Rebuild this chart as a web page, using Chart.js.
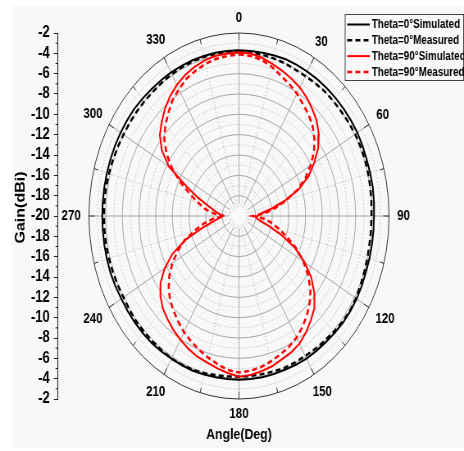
<!DOCTYPE html>
<html>
<head>
<meta charset="utf-8">
<title>Radiation pattern</title>
<script src="https://cdn.jsdelivr.net/npm/chart.js@4.4.1/dist/chart.umd.min.js"></script>
<style>
  html, body { margin: 0; padding: 0; background: #ffffff; }
</style>
</head>
<body>
<!-- drawn on a square-unit canvas, then squeezed to the page width -->
<canvas id="myChart" width="566" height="451" style="display:block;width:464px;height:451px"></canvas>
<script>
// angle in degrees, clockwise from the top
const angles = [0, 5, 10, 15, 20, 25, 30, 35, 40, 45, 50, 55, 60, 65, 70, 75, 80, 85, 90,
  95, 100, 105, 110, 115, 120, 125, 130, 135, 140, 145, 150, 155, 160, 165, 170, 175, 180,
  185, 190, 195, 200, 205, 210, 215, 220, 225, 230, 235, 240, 245, 250, 255, 260, 265, 270,
  275, 280, 285, 290, 295, 300, 305, 310, 315, 320, 325, 330, 335, 340, 345, 350, 355, 360];

// gain in dBi at each angle
const theta0Simulated = [-3.7, -3.7, -3.7, -3.65, -3.6, -3.6, -3.6, -3.6, -3.6, -3.6, -3.6, -3.6, -3.6,
  -3.65, -3.7, -3.7, -3.7, -3.75, -3.8, -3.8, -3.8, -3.8, -3.8, -3.75, -3.7, -3.7, -3.7, -3.75,
  -3.8, -3.8, -3.8, -3.85, -3.9, -3.9, -3.9, -3.9, -3.9, -3.9, -3.9, -3.85, -3.8, -3.8, -3.8,
  -3.75, -3.7, -3.7, -3.7, -3.7, -3.7, -3.65, -3.6, -3.6, -3.6, -3.6, -3.6, -3.6, -3.6, -3.6,
  -3.6, -3.6, -3.6, -3.6, -3.6, -3.65, -3.7, -3.7, -3.7, -3.7, -3.7, -3.7, -3.7, -3.7, -3.7];
const theta0Measured = [-3.9, -3.85, -3.9, -3.95, -4.0, -4.1, -4.1, -4.05, -4.0, -4.0, -4.0, -3.95, -3.9,
  -3.9, -3.9, -3.95, -4.0, -4.05, -4.1, -4.1, -4.1, -4.05, -4.0, -3.9, -3.8, -3.75, -3.8, -3.9,
  -4.0, -4.05, -4.1, -4.1, -4.1, -4.15, -4.2, -4.2, -4.2, -4.15, -4.1, -4.0, -3.9, -3.85, -3.8,
  -3.85, -3.9, -3.9, -3.9, -3.95, -4.0, -3.95, -3.9, -3.85, -3.8, -3.8, -3.8, -3.8, -3.8, -3.85,
  -3.9, -3.95, -4.0, -4.0, -4.0, -4.0, -4.0, -3.95, -3.9, -3.85, -3.8, -3.8, -3.8, -3.85, -3.9];
const theta90Simulated = [-3.9, -3.95, -4.2, -4.5, -4.8, -5.1, -5.4, -5.8, -6.3, -6.8, -7.5, -8.4, -9.6,
  -10.8, -12.4, -14.4, -16.2, -17.4, -17.8, -17.9, -17.5, -16.4, -14.6, -12.6, -10.9, -9.4, -8.2,
  -7.2, -6.6, -6.0, -5.5, -5.2, -5.0, -4.7, -4.5, -4.3, -4.2, -4.5, -4.8, -5.1, -5.3, -5.6, -5.95,
  -6.3, -6.7, -7.1, -7.7, -8.5, -9.7, -11.2, -13.2, -15.4, -16.9, -17.6, -18.0, -17.6, -17.0,
  -16.2, -14.8, -13.0, -10.3, -8.7, -7.6, -6.9, -6.2, -5.6, -5.1, -4.7, -4.4, -4.15, -4.0, -3.95, -3.9];
const theta90Measured = [-4.1, -4.2, -4.4, -4.8, -5.3, -5.7, -6.1, -6.6, -7.0, -7.5, -8.2, -9.0, -10.1,
  -11.2, -12.6, -14.2, -15.6, -16.9, -18.3, -17.0, -16.0, -15.0, -13.8, -12.4, -11.1, -9.9, -8.8,
  -8.0, -7.3, -6.7, -6.2, -5.8, -5.5, -5.2, -4.9, -4.7, -4.6, -4.8, -5.2, -5.6, -6.0, -6.4, -6.8,
  -7.3, -7.8, -8.3, -9.0, -9.8, -10.8, -11.9, -13.1, -14.5, -15.7, -16.9, -18.3, -16.9, -15.8,
  -14.9, -13.8, -12.3, -10.8, -9.4, -8.3, -7.5, -6.8, -6.1, -5.6, -5.1, -4.8, -4.5, -4.3, -4.2, -4.1];

const angleTicks = [0, 30, 60, 90, 120, 150, 180, 210, 240, 270, 300, 330];
const gainMin = -20; // centre
const gainMax = -2;  // outer ring
const gainStep = 2;

const FONT = "'Liberation Sans', Arial, sans-serif";
const BG = "#f8f8f8";

const toPoints = (gains) =>
  gains.map((g, i) => {
    const r = g - gainMin;
    const a = (angles[i] * Math.PI) / 180;
    return { x: r * Math.sin(a), y: r * Math.cos(a) };
  });

// polar grid, angle labels, legend box and the gain title
const polarGrid = {
  id: "polarGrid",
  beforeDraw(chart) {
    const { ctx } = chart;
    ctx.save();
    ctx.fillStyle = BG;
    ctx.fillRect(15, 6, chart.width - 15, 442);
    ctx.restore();
  },
  beforeDatasetsDraw(chart) {
    const { ctx, scales: { x, y } } = chart;
    const cx = x.getPixelForValue(0);
    const cy = y.getPixelForValue(0);
    const kx = x.getPixelForValue(1) - cx;
    const ky = cy - y.getPixelForValue(1);
    const R = gainMax - gainMin;

    ctx.save();
    ctx.lineWidth = 1;

    for (let r = 1; r < R; r++) {
      ctx.beginPath();
      ctx.ellipse(cx, cy, r * kx, r * ky, 0, 0, Math.PI * 2);
      if (r % 2) {
        ctx.setLineDash([1.5, 2]);
        ctx.strokeStyle = "#c4c4c4";
      } else {
        ctx.setLineDash([]);
        ctx.strokeStyle = "#a6a6a6";
      }
      ctx.stroke();
    }

    for (let a = 0; a < 360; a += 15) {
      const t = (a * Math.PI) / 180;
      const s = Math.sin(t);
      const c = Math.cos(t);
      ctx.beginPath();
      ctx.moveTo(cx + s * kx * 1.2, cy - c * ky * 1.2);
      ctx.lineTo(cx + s * kx * R, cy - c * ky * R);
      if (a % 30) {
        ctx.setLineDash([1.5, 2]);
        ctx.strokeStyle = "#c4c4c4";
      } else {
        ctx.setLineDash([]);
        ctx.strokeStyle = "#a6a6a6";
      }
      ctx.stroke();
    }

    // outer ring with inward ticks
    ctx.setLineDash([]);
    ctx.strokeStyle = "#333";
    ctx.beginPath();
    ctx.ellipse(cx, cy, R * kx, R * ky, 0, 0, Math.PI * 2);
    ctx.stroke();
    for (let a = 0; a < 360; a += 15) {
      const t = (a * Math.PI) / 180;
      const s = Math.sin(t);
      const c = Math.cos(t);
      const len = a % 30 ? 5 : 7;
      ctx.beginPath();
      ctx.moveTo(cx + s * kx * R, cy - c * ky * R);
      ctx.lineTo(cx + s * (kx * R - len), cy - c * (ky * R - len));
      ctx.stroke();
    }
    ctx.restore();
  },
  afterDraw(chart) {
    const { ctx, scales: { x, y } } = chart;
    const cx = x.getPixelForValue(0);
    const cy = y.getPixelForValue(0);
    const kx = x.getPixelForValue(1) - cx;
    const ky = cy - y.getPixelForValue(1);
    const R = gainMax - gainMin;

    ctx.save();

    // minor ticks on the gain axis
    ctx.strokeStyle = "#222";
    ctx.lineWidth = 1;
    for (let v = -R + 1; v < R; v += gainStep) {
      const py = y.getPixelForValue(v);
      ctx.beginPath();
      ctx.moveTo(chart.chartArea.left - 3, py);
      ctx.lineTo(chart.chartArea.left, py);
      ctx.stroke();
    }

    // angle labels
    ctx.fillStyle = "#000";
    ctx.font = "bold 14px " + FONT;
    ctx.textAlign = "center";
    ctx.textBaseline = "middle";
    angleTicks.forEach((a) => {
      const t = (a * Math.PI) / 180;
      const s = Math.sin(t);
      const c = Math.cos(t);
      const w = ctx.measureText(String(a)).width;
      const d = 10 + (Math.abs(s) * w) / 2 + Math.abs(c) * 5;
      ctx.fillText(String(a), cx + s * (kx * R + d), cy - c * (ky * R + d) + 0.5);
    });

    // gain axis title
    ctx.save();
    ctx.translate(26, 207.5);
    ctx.rotate(-Math.PI / 2);
    ctx.font = "bold 16px " + FONT;
    ctx.fillText("Gain(dBi)", 0, 0);
    ctx.restore();

    // legend
    const box = { left: 421, top: 14.5, right: 565.5, bottom: 80.5 };
    ctx.fillStyle = BG;
    ctx.fillRect(box.left, box.top, box.right - box.left, box.bottom - box.top);
    ctx.strokeStyle = "#444";
    ctx.lineWidth = 1;
    ctx.strokeRect(box.left, box.top, box.right - box.left, box.bottom - box.top);
    ctx.font = "bold 12px " + FONT;
    ctx.textAlign = "left";
    chart.data.datasets.forEach((ds, i) => {
      const ly = 24.5 + i * 15.8;
      ctx.beginPath();
      ctx.strokeStyle = ds.borderColor;
      ctx.lineWidth = ds.borderWidth;
      ctx.setLineDash(ds.borderDash || []);
      ctx.moveTo(423.5, ly);
      ctx.lineTo(451, ly);
      ctx.stroke();
      ctx.fillStyle = "#000";
      ctx.fillText(ds.label, 453.5, ly + 0.5);
    });

    ctx.restore();
  }
};

const lineStyle = (label, data, color, dashed, order) => ({
  label,
  data: toPoints(data),
  showLine: true,
  borderColor: color,
  borderWidth: dashed ? 2.5 : 2,
  borderDash: dashed ? [6, 4] : [],
  pointRadius: 0,
  tension: 0,
  fill: false,
  clip: false,
  order
});

const xSpan = 21.71;

new Chart(document.getElementById("myChart"), {
  type: "scatter",
  data: {
    datasets: [
      lineStyle("Theta=0°Simulated", theta0Simulated, "#000000", false, 1),
      lineStyle("Theta=0°Measured", theta0Measured, "#000000", true, 1),
      lineStyle("Theta=90°Simulated", theta90Simulated, "#ff0000", false, 0),
      lineStyle("Theta=90°Measured", theta90Measured, "#ff0000", true, 0)
    ]
  },
  options: {
    responsive: false,
    animation: false,
    events: [],
    layout: { padding: { top: 33, right: 53.75, bottom: 0, left: 0 } },
    font: { family: FONT },
    plugins: {
      legend: { display: false },
      tooltip: { enabled: false }
    },
    scales: {
      x: {
        type: "linear",
        min: -xSpan,
        max: xSpan,
        grid: { display: false },
        border: { display: false },
        ticks: { display: false },
        title: {
          display: true,
          text: "Angle(Deg)",
          color: "#000",
          font: { family: FONT, size: 15, weight: "bold" },
          padding: { top: 0, bottom: 7 }
        },
        afterFit(scale) {
          scale.height = 52;
        }
      },
      y: {
        type: "linear",
        position: "left",
        min: gainMin - gainMax,
        max: gainMax - gainMin,
        grid: { drawOnChartArea: false, drawTicks: true, tickLength: 5, color: "#222" },
        border: { display: true, color: "#222", width: 1 },
        ticks: {
          stepSize: gainStep,
          autoSkip: false,
          padding: 5,
          color: "#000",
          font: { family: FONT, size: 16, weight: "bold" },
          callback: (v) => String(gainMin + Math.abs(v))
        },
        afterFit(scale) {
          scale.width = 70.75;
        }
      }
    }
  },
  plugins: [polarGrid]
});
</script>
</body>
</html>
